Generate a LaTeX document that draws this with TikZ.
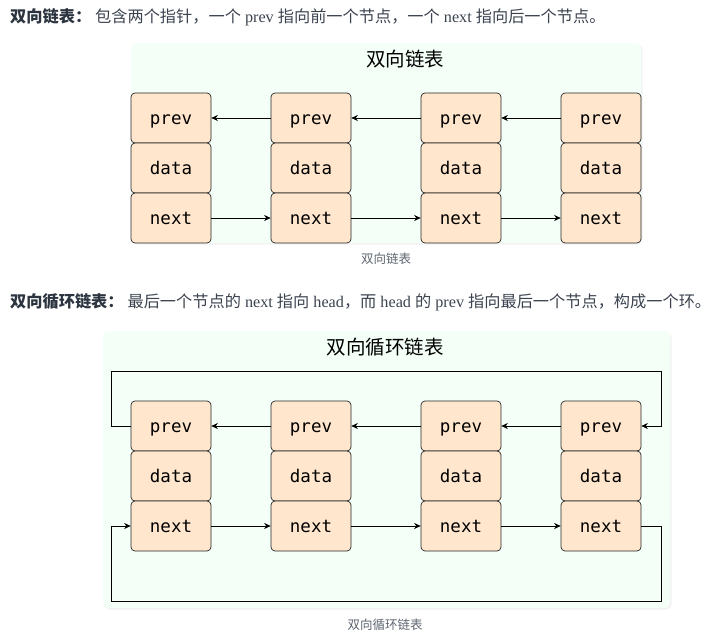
\documentclass[tikz,border=0pt]{standalone}
\usepackage{fontspec}
\setmainfont{Liberation Serif}
\newfontfamily\cjk{Noto Sans CJK SC}
\newfontfamily\mono{DejaVu Sans Mono}
\usetikzlibrary{arrows.meta,shadows}
\definecolor{panelbg}{HTML}{F4FFF8}
\definecolor{cellbg}{HTML}{FFE6CC}
\definecolor{hdr}{HTML}{3C4450}
\definecolor{hdrb}{HTML}{2C3440}
\definecolor{capc}{HTML}{5F6670}
\begin{document}
\begin{tikzpicture}[x=1pt,y=-1pt,
  cell/.style={draw=black!85, fill=cellbg, rounded corners=4pt, minimum width=80pt,
    minimum height=50pt, inner sep=0pt, line width=0.7pt,
    text height=13pt, text depth=0pt,
    font=\mono\fontsize{17.5}{18}\selectfont},
  link/.style={draw=black, line width=0.8pt, -{Stealth[length=6.5pt,width=6pt]}},
  panel/.style={fill=panelbg, rounded corners=5pt,
    drop shadow={opacity=0.10, shadow xshift=1.5pt, shadow yshift=-1.5pt}},
  ptitle/.style={font=\cjk\fontsize{19.5}{20}\selectfont, text=black},
  capt/.style={font=\cjk\fontsize{12.5}{13}\selectfont, text=capc},
  head/.style={anchor=west, inner sep=0pt, text=hdr, font=\fontsize{16.2}{17}\selectfont}
]
\useasboundingbox (0,0) rectangle (720,640);
\fill[white] (0,0) rectangle (720,640);

% ---------- header 1 ----------
\node[head] (h1) at (10,17) {{\cjk\bfseries\color{hdrb}双向链表：}\hspace{4pt}{\cjk 包含两个指针，一个} prev {\cjk 指向前一个节点，一个} next {\cjk 指向后一个节点。}};

% ---------- panel 1 ----------
\path[panel] (131,43) rectangle (641,243);
\node[ptitle] (t1) at (405,59) {\cjk 双向链表};

\foreach \i/\x in {1/171,2/311,3/461,4/601}{
  \node[cell] (p\i) at (\x,118) {prev};
  \node[cell] (d\i) at (\x,168) {data};
  \node[cell] (n\i) at (\x,218) {next};
}
\draw[link] (p2.west) -- (p1.east);
\draw[link] (p3.west) -- (p2.east);
\draw[link] (p4.west) -- (p3.east);
\draw[link] (n1.east) -- (n2.west);
\draw[link] (n2.east) -- (n3.west);
\draw[link] (n3.east) -- (n4.west);

\node[capt] (c1) at (386,259) {双向链表};

% ---------- header 2 ----------
\node[head] (h2) at (10,302) {{\cjk\bfseries\color{hdrb}双向循环链表：}\hspace{4pt}{\cjk 最后一个节点的} next {\cjk 指向} head{\cjk ，而} head {\cjk 的} prev {\cjk 指向最后一个节点，构成一个环。}};

% ---------- panel 2 ----------
\path[panel] (103,331) rectangle (670,608);
\node[ptitle] (t2) at (385,347) {\cjk 双向循环链表};

\foreach \i/\x in {1/171,2/311,3/461,4/601}{
  \node[cell] (P\i) at (\x,426) {prev};
  \node[cell] (D\i) at (\x,476) {data};
  \node[cell] (N\i) at (\x,526) {next};
}
\draw[link] (P2.west) -- (P1.east);
\draw[link] (P3.west) -- (P2.east);
\draw[link] (P4.west) -- (P3.east);
\draw[link] (N1.east) -- (N2.west);
\draw[link] (N2.east) -- (N3.west);
\draw[link] (N3.east) -- (N4.west);

\coordinate (tl) at (111,371);
\coordinate (tr) at (661,371);
\coordinate (bl) at (111,601);
\coordinate (br) at (661,601);
\draw[link] (P1.west) -| (tl) -| (tr) |- (P4.east);
\draw[link] (N4.east) -| (br) -- (bl) |- (N1.west);

\node[capt] (c2) at (385,625) {双向循环链表};
\end{tikzpicture}
\end{document}
